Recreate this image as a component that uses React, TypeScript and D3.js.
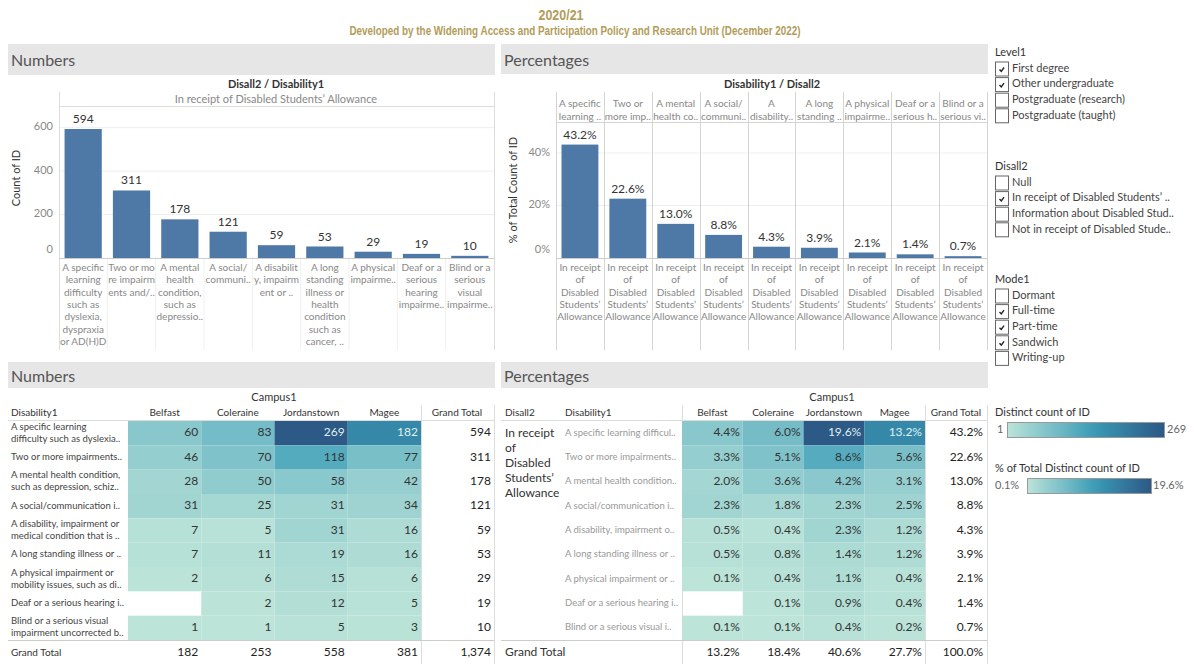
import * as d3 from "d3";

const FONT = "Lato, 'Noto Sans', sans-serif";
const GOLD = "#b39c5a";
const BAR = "#4e79a7";

// ---- data ----
const barLabels = [
  ["A specific", "learning", "difficulty", "such as", "dyslexia,", "dyspraxia", "or AD(H)D"],
  ["Two or mo", "re impairm", "ents and/.."],
  ["A mental", "health", "condition,", "such as", "depressio.."],
  ["A social/", "communi.."],
  ["A disabilit", "y, impairm", "ent or .."],
  ["A long", "standing", "illness or", "health", "condition", "such as", "cancer, .."],
  ["A physical", "impairme.."],
  ["Deaf or a", "serious", "hearing", "impairme.."],
  ["Blind or a", "serious", "visual", "impairme.."],
];
const countTotals = [594, 311, 178, 121, 59, 53, 29, 19, 10];
const pctTotals = [43.2, 22.6, 13.0, 8.8, 4.3, 3.9, 2.1, 1.4, 0.7];
const pctHeaders = [
  ["A specific", "learning .."], ["Two or", "more imp.."], ["A mental", "health co.."],
  ["A social/", "communi.."], ["A", "disability.."], ["A long", "standing .."],
  ["A physical", "impairme.."], ["Deaf or a", "serious h.."], ["Blind or a", "serious vi.."],
];
const dsaLines = ["In receipt", "of", "Disabled", "Students\u2019", "Allowance"];
const countTicks = [0, 200, 400, 600];
const pctTicks = [0, 0.2, 0.4];

const campuses = ["Belfast", "Coleraine", "Jordanstown", "Magee"];
const belfastCounts = [60, 46, 28, 31, 7, 7, 2, null, 1];
const coleraineCounts = [83, 70, 50, 25, 5, 11, 6, 2, 1];
const jordanstownCounts = [269, 118, 58, 31, 31, 19, 15, 12, 5];
const mageeCounts = [182, 77, 42, 34, 16, 16, 6, 5, 3];
const campusCountTotals = [182, 253, 558, 381];
const grandCount = "1,374";
const belfastPct = [4.4, 3.3, 2.0, 2.3, 0.5, 0.5, 0.1, null, 0.1];
const colerainePct = [6.0, 5.1, 3.6, 1.8, 0.4, 0.8, 0.4, 0.1, 0.1];
const jordanstownPct = [19.6, 8.6, 4.2, 2.3, 2.3, 1.4, 1.1, 0.9, 0.4];
const mageePct = [13.2, 5.6, 3.1, 2.5, 1.2, 1.2, 0.4, 0.4, 0.2];
const campusPctTotals = [13.2, 18.4, 40.6, 27.7];
const grandPct = 100.0;

const countRowLabels = [
  ["A specific learning", "difficulty such as dyslexia.."],
  ["Two or more impairments.."],
  ["A mental health condition,", "such as depression, schiz.."],
  ["A social/communication i.."],
  ["A disability, impairment or", "medical condition that is .."],
  ["A long standing illness or .."],
  ["A physical impairment or", "mobility issues, such as di.."],
  ["Deaf or a serious hearing i.."],
  ["Blind or a serious visual", "impairment uncorrected b.."],
];
const pctRowLabels = [
  "A specific learning difficul..", "Two or more impairments..", "A mental health condition..",
  "A social/communication i..", "A disability, impairment o..", "A long standing illness or ..",
  "A physical impairment or ..", "Deaf or a serious hearing i..", "Blind or a serious visual i..",
];

const level1Items = ["First degree", "Other undergraduate", "Postgraduate (research)", "Postgraduate (taught)"];
const level1Checked = [true, true, false, false];
const disall2Items = ["Null", "In receipt of Disabled Students\u2019 ..", "Information about Disabled Stud..", "Not in receipt of Disabled Stude.."];
const disall2Checked = [false, true, false, false];
const mode1Items = ["Dormant", "Full-time", "Part-time", "Sandwich", "Writing-up"];
const mode1Checked = [false, true, true, true, false];

const blueTeal = ["#bce4d8", "#9dd3d1", "#81c3cb", "#65b3c2", "#45a2b9", "#368fae", "#347da0", "#306a93", "#2c5985"];

// ---- scales ----
const xL = d3.scaleBand<number>().domain(d3.range(9)).range([59, 494]).paddingInner(0.23).paddingOuter(0.115);
const yL = d3.scaleLinear().domain([0, 700]).range([258, 106]);
const xR = d3.scaleBand<number>().domain(d3.range(9)).range([556, 987]).paddingInner(0.23).paddingOuter(0.115);
const yR = d3.scaleLinear().domain([0, 0.518]).range([258, 122]);

const countColor = d3.scaleSequential(d3.interpolateRgbBasis(blueTeal)).domain([1, 269]);
const pctColor = d3.scaleSequential(d3.interpolateRgbBasis(blueTeal)).domain([0.1, 19.6]);

const rowY = d3.scaleBand<number>().domain(d3.range(9)).range([421, 640]);
const colL = d3.scaleBand<string>().domain(campuses).range([128, 421]);
const colR = d3.scaleBand<string>().domain(campuses).range([682, 925]);

const countCols = [belfastCounts, coleraineCounts, jordanstownCounts, mageeCounts];
const pctCols = [belfastPct, colerainePct, jordanstownPct, mageePct];

function Band({ x, y, w, h, label }: any) {
  return (
    <g>
      <rect x={x} y={y} width={w} height={h} fill="#e6e6e6" />
      <text x={x + 3} y={y + h / 2 + 2.5} dominantBaseline="middle" fontSize={16} fill="#555">{label}</text>
    </g>
  );
}

function Filter({ title, items, checked, y0 }: any) {
  return (
    <g>
      <text x={995} y={y0} dominantBaseline="middle" fontSize={11} fill="#333">{title}</text>
      {items.map((t: string, i: number) => {
        const cy = y0 + 16 + i * 15.6;
        return (
          <g key={t}>
            <rect x={995.5} y={cy - 7} width={13} height={14} fill="#fff" stroke="#666" strokeWidth={1} />
            {checked[i] && <path d={`M${999.5},${cy + 0.5} L${1001.3},${cy + 2.3} L${1004},${cy - 1.5}`} fill="none" stroke="#222" strokeWidth={1.4} />}
            <text x={1012} y={cy} dominantBaseline="middle" fontSize={11} fill="#444">{t}</text>
          </g>
        );
      })}
    </g>
  );
}

export default function App() {
  const fmtPct = (v: number) => v.toFixed(1) + "%";
  const sepX = (i: number) => (i === 0 ? 556 : i === 9 ? 987 : xR(i)! - (xR.step() - xR.bandwidth()) / 2);
  return (
    <svg width={1194} height={664} style={{ position: "absolute", left: 0, top: 0, fontFamily: FONT }}>
      <defs>
        <linearGradient id="bt" x1="0" x2="1" y1="0" y2="0">
          {blueTeal.map((c, i) => <stop key={i} offset={i / (blueTeal.length - 1)} stopColor={c} />)}
        </linearGradient>
      </defs>
      <rect width={1194} height={664} fill="#fff" />

      {/* Title */}
      <text x={561} y={16.5} textAnchor="middle" dominantBaseline="middle" fontFamily="'Liberation Sans', Arial" fontWeight="bold" fontSize={14} fill={GOLD} textLength={45} lengthAdjust="spacingAndGlyphs">2020/21</text>
      <text x={575} y={31.5} textAnchor="middle" dominantBaseline="middle" fontFamily="'Liberation Sans', Arial" fontWeight="bold" fontSize={12.5} fill={GOLD} textLength={451} lengthAdjust="spacingAndGlyphs">Developed by the Widening Access and Participation Policy and Research Unit (December 2022)</text>

      <Band x={8} y={44} w={487} h={31} label="Numbers" />
      <Band x={501} y={44} w={487} h={30} label="Percentages" />
      <Band x={8} y={362} w={487} h={26} label="Numbers" />
      <Band x={501} y={362} w={487} h={26} label="Percentages" />

      {/* ---- Top-left bar chart ---- */}
      <text x={276} y={85.5} textAnchor="middle" dominantBaseline="middle" fontSize={11} fontWeight="bold" fill="#333">Disall2 / Disability1</text>
      <text x={276} y={100.5} textAnchor="middle" dominantBaseline="middle" fontSize={11} fill="#888">In receipt of Disabled Students{"\u2019"} Allowance</text>
      <line x1={59.5} x2={59.5} y1={92} y2={350} stroke="#ddd" />
      <line x1={494.5} x2={494.5} y1={92} y2={350} stroke="#ddd" />
      <line x1={59} x2={494} y1={106.5} y2={106.5} stroke="#ddd" />
      {countTicks.slice(1).map((t) => (
        <line key={t} x1={60} x2={494} y1={yL(t)} y2={yL(t)} stroke="#eee" />
      ))}
      {countTicks.map((t) => (
        <text key={t} x={53} y={t === 0 ? 250 : yL(t)} textAnchor="end" dominantBaseline="middle" fontSize={11} fill="#888">{t}</text>
      ))}
      <text transform="translate(17,178) rotate(-90)" textAnchor="middle" dominantBaseline="middle" fontSize={11} fill="#333">Count of ID</text>
      {countTotals.map((v, i) => (
        <g key={i}>
          <rect x={xL(i)} y={yL(v)} width={xL.bandwidth()} height={yL(0) - yL(v)} fill={BAR} />
          <text x={xL(i)! + xL.bandwidth() / 2} y={yL(v) - 9} textAnchor="middle" dominantBaseline="middle" fontSize={12} fill="#333">{v}</text>
          {i > 0 && <line x1={xL(i)! - (xL.step() - xL.bandwidth()) / 2} x2={xL(i)! - (xL.step() - xL.bandwidth()) / 2} y1={258} y2={350} stroke="#f0f0f0" />}
          {barLabels[i].map((l, j) => (
            <text key={j} x={xL(i)! + xL.bandwidth() / 2} y={268.5 + j * 12.3} textAnchor="middle" dominantBaseline="middle" fontSize={10} fill="#888">{l}</text>
          ))}
        </g>
      ))}
      <line x1={59} x2={494} y1={258.5} y2={258.5} stroke="#ccc" />

      {/* ---- Top-right bar chart ---- */}
      <text x={772} y={85.5} textAnchor="middle" dominantBaseline="middle" fontSize={11} fontWeight="bold" fill="#333">Disability1 / Disall2</text>
      {pctTicks.slice(1).map((t) => (
        <line key={t} x1={556} x2={987} y1={yR(t)} y2={yR(t)} stroke="#eee" />
      ))}
      {pctTicks.map((t) => (
        <text key={t} x={550} y={t === 0 ? 250 : yR(t)} textAnchor="end" dominantBaseline="middle" fontSize={11} fill="#888">{Math.round(t * 100)}%</text>
      ))}
      <text transform="translate(514,190) rotate(-90)" textAnchor="middle" dominantBaseline="middle" fontSize={11} fill="#333">% of Total Count of ID</text>
      {d3.range(10).map((i) => (
        <line key={i} x1={Math.round(sepX(i)) + 0.5} x2={Math.round(sepX(i)) + 0.5} y1={92} y2={350} stroke="#d4d4d4" />
      ))}
      <line x1={556} x2={987} y1={122.5} y2={122.5} stroke="#d4d4d4" />
      {pctTotals.map((v, i) => (
        <g key={i}>
          <rect x={xR(i)} y={yR(v / 100)} width={xR.bandwidth()} height={yR(0) - yR(v / 100)} fill={BAR} />
          <text x={xR(i)! + xR.bandwidth() / 2} y={yR(v / 100) - 9} textAnchor="middle" dominantBaseline="middle" fontSize={12} fill="#333">{fmtPct(v)}</text>
          {pctHeaders[i].map((l, j) => (
            <text key={j} x={xR(i)! + xR.bandwidth() / 2} y={104.5 + j * 12.7} textAnchor="middle" dominantBaseline="middle" fontSize={10} fill="#888">{l}</text>
          ))}
          {dsaLines.map((l, j) => (
            <text key={j} x={xR(i)! + xR.bandwidth() / 2} y={268.5 + j * 12.3} textAnchor="middle" dominantBaseline="middle" fontSize={10} fill="#888">{l}</text>
          ))}
        </g>
      ))}
      <line x1={556} x2={987} y1={258.5} y2={258.5} stroke="#ccc" />

      {/* ---- Filters ---- */}
      <Filter title="Level1" items={level1Items} checked={level1Checked} y0={53} />
      <Filter title="Disall2" items={disall2Items} checked={disall2Checked} y0={167} />
      <Filter title="Mode1" items={mode1Items} checked={mode1Checked} y0={280} />

      {/* ---- Bottom-left table ---- */}
      <text x={274} y={398.5} textAnchor="middle" dominantBaseline="middle" fontSize={11} fill="#333">Campus1</text>
      <text x={11} y={413} dominantBaseline="middle" fontSize={10} fill="#333">Disability1</text>
      {campuses.map((c) => (
        <text key={c} x={colL(c)! + colL.bandwidth() / 2} y={413} textAnchor="middle" dominantBaseline="middle" fontSize={10} fill="#333">{c}</text>
      ))}
      <text x={457} y={413} textAnchor="middle" dominantBaseline="middle" fontSize={10} fill="#333">Grand Total</text>
      <line x1={8} x2={494} y1={420.5} y2={420.5} stroke="#ddd" />
      <line x1={421.5} x2={421.5} y1={405} y2={664} stroke="#ddd" />
      <line x1={494.5} x2={494.5} y1={405} y2={664} stroke="#ddd" />
      {countRowLabels.map((lines, i) => (
        <g key={i}>
          {lines.map((l, j) => (
            <text key={j} x={11} y={rowY(i)! + rowY.bandwidth() / 2 + (lines.length === 2 ? (j - 0.5) * 12 : 0)} dominantBaseline="middle" fontSize={9.5} fill="#444">{l}</text>
          ))}
          <text x={491} y={rowY(i)! + rowY.bandwidth() / 2} textAnchor="end" dominantBaseline="middle" fontSize={12} fill="#222">{countTotals[i]}</text>
        </g>
      ))}
      {countCols.map((col, ci) =>
        col.map((v, i) =>
          v == null ? null : (
            <g key={ci + "-" + i}>
              <rect x={colL(campuses[ci])} y={rowY(i)} width={colL.bandwidth()} height={rowY.bandwidth()} fill={countColor(v)} />
              <text x={colL(campuses[ci])! + colL.bandwidth() - 3} y={rowY(i)! + rowY.bandwidth() / 2} textAnchor="end" dominantBaseline="middle" fontSize={12} fill={v > 150 ? "#dff0f0" : "#333"}>{v}</text>
            </g>
          )
        )
      )}
      <line x1={8} x2={494} y1={640.5} y2={640.5} stroke="#ccc" />
      <text x={11} y={653} dominantBaseline="middle" fontSize={10} fill="#333">Grand Total</text>
      {campusCountTotals.map((v, ci) => (
        <text key={ci} x={colL(campuses[ci])! + colL.bandwidth() - 3} y={653} textAnchor="end" dominantBaseline="middle" fontSize={12} fill="#222">{v}</text>
      ))}
      <text x={491} y={653} textAnchor="end" dominantBaseline="middle" fontSize={12} fill="#222">{grandCount}</text>

      {/* ---- Bottom-right table ---- */}
      <text x={832} y={398.5} textAnchor="middle" dominantBaseline="middle" fontSize={11} fill="#333">Campus1</text>
      <text x={505} y={413} dominantBaseline="middle" fontSize={10} fill="#333">Disall2</text>
      <text x={565} y={413} dominantBaseline="middle" fontSize={10} fill="#333">Disability1</text>
      {campuses.map((c) => (
        <text key={c} x={colR(c)! + colR.bandwidth() / 2} y={413} textAnchor="middle" dominantBaseline="middle" fontSize={10} fill="#333">{c}</text>
      ))}
      <text x={956} y={413} textAnchor="middle" dominantBaseline="middle" fontSize={10} fill="#333">Grand Total</text>
      <line x1={501} x2={987} y1={420.5} y2={420.5} stroke="#ddd" />
      <line x1={682.5} x2={682.5} y1={405} y2={664} stroke="#ddd" />
      <line x1={925.5} x2={925.5} y1={405} y2={664} stroke="#ddd" />
      <line x1={987.5} x2={987.5} y1={405} y2={664} stroke="#ddd" />
      {dsaLines.map((l, j) => (
        <text key={j} x={505} y={433.5 + j * 15.2} dominantBaseline="middle" fontSize={12} fill="#333">{l}</text>
      ))}
      {pctRowLabels.map((l, i) => (
        <g key={i}>
          <text x={565} y={rowY(i)! + rowY.bandwidth() / 2} dominantBaseline="middle" fontSize={9.5} fill="#999">{l}</text>
          <text x={983} y={rowY(i)! + rowY.bandwidth() / 2} textAnchor="end" dominantBaseline="middle" fontSize={12} fill="#222">{fmtPct(pctTotals[i])}</text>
        </g>
      ))}
      {pctCols.map((col, ci) =>
        col.map((v, i) =>
          v == null ? null : (
            <g key={ci + "-" + i}>
              <rect x={colR(campuses[ci])} y={rowY(i)} width={colR.bandwidth()} height={rowY.bandwidth()} fill={pctColor(v)} />
              <text x={colR(campuses[ci])! + colR.bandwidth() - 3} y={rowY(i)! + rowY.bandwidth() / 2} textAnchor="end" dominantBaseline="middle" fontSize={12} fill={v > 11 ? "#dff0f0" : "#333"}>{fmtPct(v)}</text>
            </g>
          )
        )
      )}
      <line x1={501} x2={987} y1={640.5} y2={640.5} stroke="#ccc" />
      <text x={505} y={653} dominantBaseline="middle" fontSize={12} fill="#333">Grand Total</text>
      {campusPctTotals.map((v, ci) => (
        <text key={ci} x={colR(campuses[ci])! + colR.bandwidth() - 3} y={653} textAnchor="end" dominantBaseline="middle" fontSize={12} fill="#222">{fmtPct(v)}</text>
      ))}
      <text x={983} y={653} textAnchor="end" dominantBaseline="middle" fontSize={12} fill="#222">{fmtPct(grandPct)}</text>

      {/* ---- Colour legends ---- */}
      <text x={995} y={413} dominantBaseline="middle" fontSize={11} fill="#333">Distinct count of ID</text>
      <text x={997} y={430} dominantBaseline="middle" fontSize={11} fill="#666">1</text>
      <rect x={1007.5} y={422.5} width={157} height={15} fill="url(#bt)" stroke="#999" />
      <text x={1167} y={430} dominantBaseline="middle" fontSize={11} fill="#666">269</text>
      <text x={995} y={469} dominantBaseline="middle" fontSize={11} fill="#333">% of Total Distinct count of ID</text>
      <text x={995} y={486} dominantBaseline="middle" fontSize={11} fill="#666">0.1%</text>
      <rect x={1027.5} y={478.5} width={124} height={15} fill="url(#bt)" stroke="#999" />
      <text x={1153} y={486} dominantBaseline="middle" fontSize={11} fill="#666">19.6%</text>
    </svg>
  );
}
